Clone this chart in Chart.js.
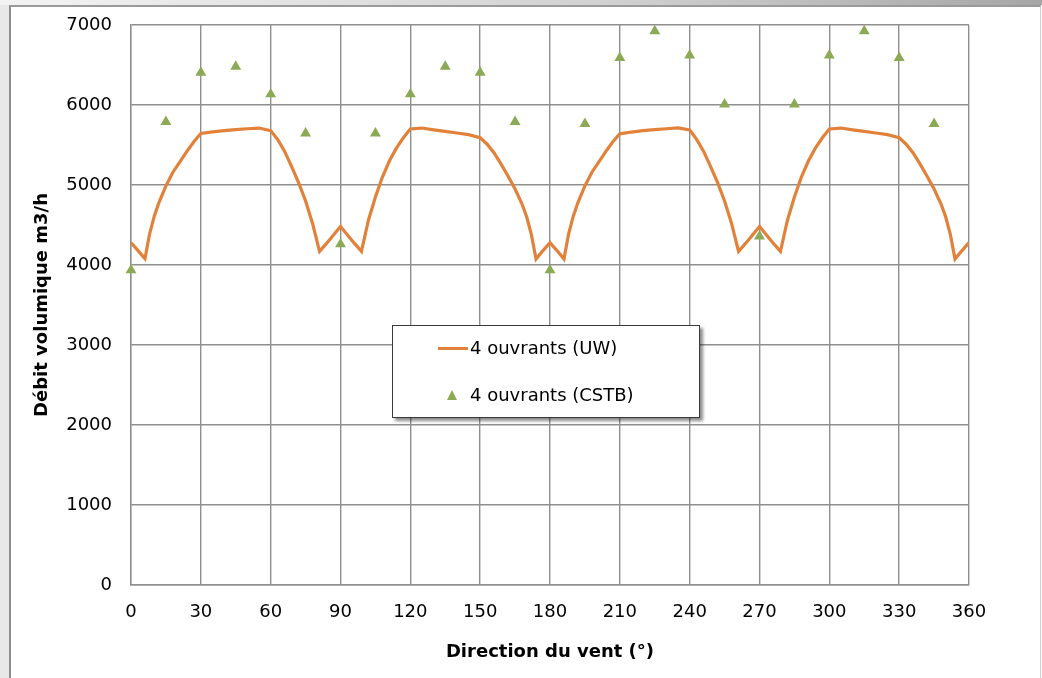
<!DOCTYPE html>
<html>
<head>
<meta charset="utf-8">
<script src="https://cdn.jsdelivr.net/npm/chart.js@4/dist/chart.umd.min.js"></script>
<style>
  html,body{margin:0;padding:0;}
  body{width:1042px;height:678px;overflow:hidden;background:#e8e8e8;position:relative;font-family:"DejaVu Sans",Verdana,sans-serif;}
  #topband{position:absolute;left:0;top:0;width:1042px;height:5px;background:linear-gradient(to right,#f3f3f3,#d0d0d0 60%,#a6a6a6);}
  #frame{position:absolute;left:9px;top:5px;width:1032px;height:673px;background:#fff;border-left:2px solid #8e8e8e;border-top:2px solid #9a9a9a;border-right:1px solid #cfcfcf;box-sizing:border-box;}
  #edge{position:absolute;left:1041px;top:5px;width:1px;height:673px;background:#fafafa;}
  #c{position:absolute;left:0;top:0;}
  #legend{position:absolute;left:392px;top:325px;width:308px;height:93px;box-sizing:border-box;background:#fff;border:1px solid #3a3a3a;box-shadow:3px 3px 3px rgba(0,0,0,0.45);}
  .item{position:absolute;left:0;height:22px;font-size:18px;color:#000;white-space:nowrap;line-height:22px;}
  .item span.t{position:absolute;left:77px;top:0;}
  .sw-line{position:absolute;left:45px;top:10px;width:30px;height:3px;}
  .sw-tri{position:absolute;left:54px;top:6px;width:0;height:0;border-left:5.5px solid transparent;border-right:5.5px solid transparent;}
</style>
</head>
<body>
<div id="topband"></div>
<div id="frame"></div>
<div id="edge"></div>
<canvas id="c" width="1042" height="678"></canvas>
<div id="legend"></div>
<script>
// ---- data ----
const uwLabel = "4 ouvrants (UW)";
const cstbLabel = "4 ouvrants (CSTB)";

const uwAngles = [0,3,6,8,10,12,15,18,21,24,27,30,35,40,45,50,55,60,63,66,69,72,75,78,81,84,87,90,
  93,96,99,102,105,108,111,114,117,120,125,130,135,140,145,150,153,156,159,162,165,168,170,172,174,177,180,
  183,186,188,190,192,195,198,201,204,207,210,215,220,225,230,235,240,243,246,249,252,255,258,261,264,267,270,
  273,276,279,282,285,288,291,294,297,300,305,310,315,320,325,330,333,336,339,342,345,348,350,352,354,357,360];
const uwValues = [4280,4180,4080,4390,4610,4780,4990,5160,5290,5420,5540,5645,5665,5680,5693,5703,5712,5680,5570,5420,5230,5030,4800,4520,4170,4270,4375,4480,
  4375,4270,4170,4560,4850,5100,5300,5460,5590,5700,5712,5690,5670,5650,5630,5590,5510,5400,5260,5110,4950,4760,4600,4380,4075,4180,4280,
  4180,4075,4390,4610,4780,4990,5160,5290,5420,5540,5640,5662,5680,5693,5703,5713,5688,5570,5420,5230,5030,4800,4520,4170,4270,4375,4480,
  4375,4270,4170,4560,4850,5100,5300,5460,5590,5700,5712,5690,5670,5650,5630,5590,5510,5400,5260,5110,4950,4760,4600,4380,4075,4180,4280];

const cstbAngles = [0,15,30,45,60,75,90,105,120,135,150,165,180,195,210,225,240,255,270,285,300,315,330,345];
const cstbValues = [3935,5790,6405,6480,6135,5645,4260,5645,6135,6480,6405,5790,3935,5765,6590,6925,6620,6008,4358,6008,6620,6925,6590,5765];

const xTicks = [0,30,60,90,120,150,180,210,240,270,300,330,360];
const yTicks = [0,1000,2000,3000,4000,5000,6000,7000];

const xTitle = "Direction du vent (°)";
const yTitle = "Débit volumique m3/h";

// ---- styles ----
const orange = "#E2823A";
const green = "#8CAA55";
const gridColor = "#8f8f8f";

Chart.defaults.font.family = '"DejaVu Sans", Verdana, sans-serif';
Chart.defaults.color = "#000";

const uwData = uwAngles.map((a,i)=>({x:a,y:uwValues[i]}));
const cstbData = cstbAngles.map((a,i)=>({x:a,y:cstbValues[i]}));

const chart = new Chart(document.getElementById('c'), {
  type: 'scatter',
  data: {
    datasets: [
      {label: uwLabel, data: uwData, showLine: true, borderColor: orange, backgroundColor: orange,
       borderWidth: 3.2, pointRadius: 0, pointHoverRadius: 0, tension: 0, order: 2},
      {label: cstbLabel, data: cstbData, showLine: false, pointStyle: 'triangle', pointRadius: 6.3,
       backgroundColor: green, borderColor: green, borderWidth: 0, clip: false, order: 1}
    ]
  },
  options: {
    responsive: false,
    animation: false,
    layout: {padding: {top: 25, right: 73, bottom: 0, left: 0}},
    plugins: {legend: {display: false}, tooltip: {enabled: false}},
    scales: {
      x: {
        type: 'linear', min: 0, max: 360,
        afterBuildTicks: s => { s.ticks = xTicks.map(v => ({value: v})); },
        afterFit: s => { s.height = 93; s.paddingLeft = 0; s.paddingRight = 0; },
        grid: {color: gridColor, lineWidth: 1.4, drawTicks: false},
        border: {color: gridColor, width: 1.4},
        ticks: {font: {size: 18}, padding: 17, color: '#000', maxRotation: 0, callback: v => String(v)},
        title: {display: true, text: xTitle, font: {size: 18, weight: 'bold'}, color: '#000', padding: {top: 0, bottom: 15}}
      },
      y: {
        type: 'linear', min: 0, max: 7000,
        afterBuildTicks: s => { s.ticks = yTicks.map(v => ({value: v})); },
        afterFit: s => { s.width = 131; s.paddingTop = 0; s.paddingBottom = 0; },
        grid: {color: gridColor, lineWidth: 1.4, drawTicks: false},
        border: {color: gridColor, width: 1.4},
        ticks: {font: {size: 18}, padding: 19, color: '#000', callback: v => String(v)},
        title: {display: true, text: yTitle, font: {size: 18, weight: 'bold'}, color: '#000', padding: {top: 32, bottom: 0}}
      }
    }
  }
});

// ---- HTML legend built from the datasets ----
const lg = document.getElementById('legend');
chart.data.datasets.forEach((ds, i) => {
  const it = document.createElement('div');
  it.className = 'item';
  it.style.top = (i === 0 ? 11 : 58) + 'px';
  const sw = document.createElement('div');
  if (ds.showLine) {
    sw.className = 'sw-line';
    sw.style.background = ds.borderColor;
  } else {
    sw.className = 'sw-tri';
    sw.style.borderBottom = '10px solid ' + ds.backgroundColor;
  }
  const t = document.createElement('span');
  t.className = 't';
  t.textContent = ds.label;
  it.appendChild(sw);
  it.appendChild(t);
  lg.appendChild(it);
});
</script>
</body>
</html>
